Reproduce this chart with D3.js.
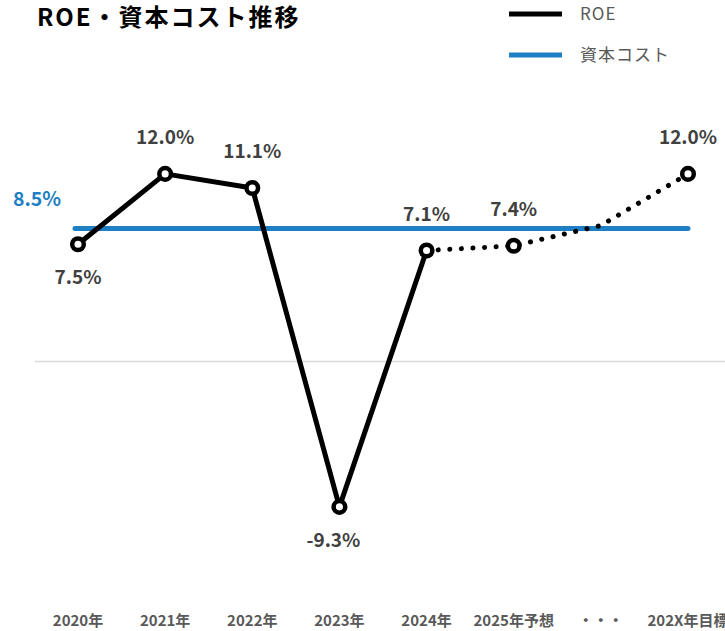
<!DOCTYPE html>
<html>
<head>
<meta charset="utf-8">
<script src="https://cdn.jsdelivr.net/npm/d3@7"></script>
<style>
  body { margin: 0; background: #fff; }
  svg { display: block; }
</style>
</head>
<body>
<div id="chart"></div>
<script>
const categories = ["2020年", "2021年", "2022年", "2023年", "2024年", "2025年予想", "・・・", "202X年目標"];
const roeValues = [7.5, 12.0, 11.1, -9.3, 7.1, 7.4, 8.7, 12.0];
const roeLabels = ["7.5%", "12.0%", "11.1%", "-9.3%", "7.1%", "7.4%", "", "12.0%"];
const labelBelow = [true, false, false, true, false, false, false, false];
const hasMarker = [true, true, true, true, true, true, false, true];
const solidUntil = 4; // last actual value, dotted after this
const costValue = 8.5;
const costLabel = "8.5%";

const width = 725, height = 631;
const font = "'Noto Sans CJK JP', 'Noto Sans', sans-serif";

const svg = d3.select("#chart").append("svg")
    .attr("width", width)
    .attr("height", height);

const x = d3.scalePoint().domain(categories).range([78, 688]);
const y = d3.scaleLinear().domain([-15, 15]).range([596, 127]);

// zero line
svg.append("line")
    .attr("x1", 35).attr("x2", width)
    .attr("y1", y(0)).attr("y2", y(0))
    .attr("stroke", "#d9d9d9")
    .attr("stroke-width", 1.5);

// capital cost line
svg.append("line")
    .attr("x1", x(categories[0]) - 3).attr("x2", x(categories[categories.length - 1]))
    .attr("y1", y(costValue)).attr("y2", y(costValue))
    .attr("stroke", "#1f7fc4")
    .attr("stroke-width", 5)
    .attr("stroke-linecap", "round");

svg.append("text")
    .attr("x", 37).attr("y", y(costValue) - 28)
    .attr("text-anchor", "middle")
    .attr("dominant-baseline", "middle")
    .attr("fill", "#1f7fc4")
    .style("font-family", font)
    .style("font-weight", "bold")
    .style("font-size", "19.5px")
    .text(costLabel);

const pts = categories.map((c, i) => ({c: c, v: roeValues[i], i: i}));
const line = d3.line().x(d => x(d.c)).y(d => y(d.v));

svg.append("path")
    .attr("d", line(pts.slice(0, solidUntil + 1)))
    .attr("fill", "none")
    .attr("stroke", "#000")
    .attr("stroke-width", 5)
    .attr("stroke-linejoin", "round");

svg.append("path")
    .attr("d", line(pts.slice(solidUntil)))
    .attr("fill", "none")
    .attr("stroke", "#000")
    .attr("stroke-width", 5)
    .attr("stroke-linecap", "round")
    .attr("stroke-dasharray", "0.1 11.5");

svg.selectAll("circle.m")
    .data(pts.filter(d => hasMarker[d.i]))
    .enter().append("circle")
    .attr("class", "m")
    .attr("cx", d => x(d.c))
    .attr("cy", d => y(d.v))
    .attr("r", 5.8)
    .attr("fill", "#fff")
    .attr("stroke", "#000")
    .attr("stroke-width", 4.5);

svg.selectAll("text.lbl")
    .data(pts.filter(d => roeLabels[d.i] !== ""))
    .enter().append("text")
    .attr("class", "lbl")
    .attr("x", d => x(d.c) + (d.i === 3 ? -6 : 0))
    .attr("y", d => y(d.v) + (labelBelow[d.i] ? 35 : -35))
    .attr("text-anchor", "middle")
    .attr("dominant-baseline", "middle")
    .attr("fill", "#404040")
    .style("font-family", font)
    .style("font-weight", "bold")
    .style("font-size", "19px")
    .text(d => roeLabels[d.i]);

// x labels
svg.selectAll("text.xl")
    .data(categories)
    .enter().append("text")
    .attr("class", "xl")
    .attr("x", d => x(d))
    .attr("y", 622)
    .attr("text-anchor", "middle")
    .attr("dominant-baseline", "middle")
    .attr("fill", "#595959")
    .style("font-family", font)
    .style("font-weight", "bold")
    .style("font-size", "15px")
    .text(d => d);

// title
svg.append("text")
    .attr("x", 37).attr("y", 26)
    .attr("fill", "#000")
    .style("font-family", font)
    .style("font-weight", "bold")
    .style("font-size", "24px")
    .style("letter-spacing", "2px")
    .text("ROE・資本コスト推移");

// legend
const legend = [
  {name: "ROE", color: "#000", y: 14},
  {name: "資本コスト", color: "#1f7fc4", y: 55}
];
const lg = svg.selectAll("g.lg").data(legend).enter().append("g")
    .attr("transform", d => "translate(509," + d.y + ")");
lg.append("line")
    .attr("x1", 0).attr("x2", 53)
    .attr("stroke", d => d.color)
    .attr("stroke-width", 5);
lg.append("text")
    .attr("x", 71).attr("y", 1)
    .attr("dominant-baseline", "middle")
    .attr("fill", "#595959")
    .style("font-family", font)
    .style("font-size", "17px")
    .style("letter-spacing", "1px")
    .text(d => d.name);
</script>
</body>
</html>
